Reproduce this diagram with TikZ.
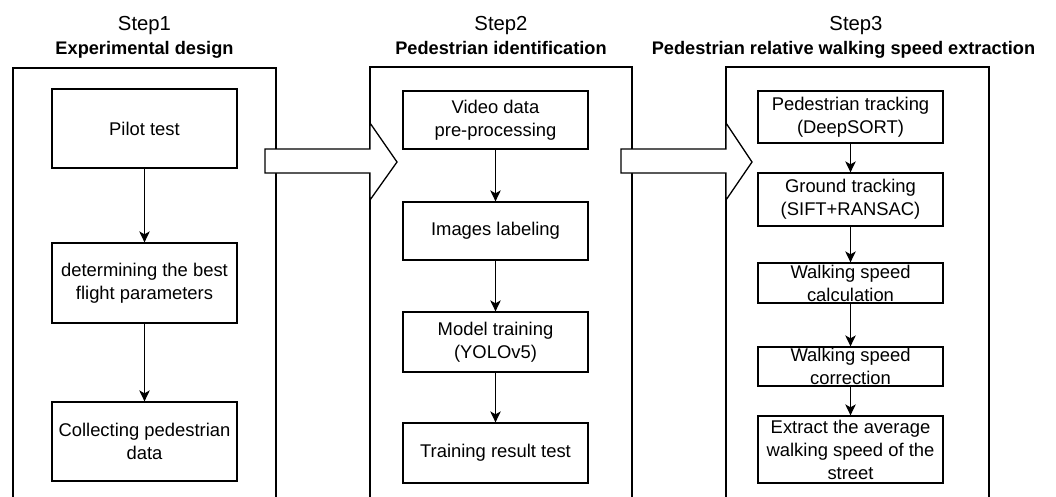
\documentclass[tikz,border=0pt]{standalone}
\usepackage{fontspec}
\setmainfont{Liberation Sans}
\usetikzlibrary{arrows.meta}
\tikzset{
  x=1pt, y=-1pt,
  lw/.style={line width=1.3pt, draw=black},
  stepbox/.style={lw, fill=white, rectangle, inner sep=0pt, minimum width=185pt,
    align=center, font=\fontsize{18.4}{23}\selectfont},
  flow/.style={lw, -{Stealth[length=11pt,width=10.5pt,inset=3pt]}},
  bigarrow/.style={lw, fill=white, line join=miter},
  steplabel/.style={anchor=base, inner sep=0pt, font=\fontsize{20.3}{24}\selectfont},
  titlelabel/.style={anchor=base, inner sep=0pt, font=\fontsize{18.2}{22}\selectfont\bfseries},
}
\begin{document}
\begin{tikzpicture}
\useasboundingbox (0,0) rectangle (1056,496);

% stage frames, running off the lower edge
\begin{scope}
  \clip (0,0) rectangle (1056,496);
  \draw[lw] (13,68) rectangle (276,510);
  \draw[lw] (370,67) rectangle (632,510);
  \draw[lw] (726,67) rectangle (989,510);
\end{scope}

% headings
\node[steplabel] (s1) at (144.5,30) {Step1};
\node[titlelabel] (t1) at (144.5,54) {Experimental design};
\node[steplabel] (s2) at (501,30) {Step2};
\node[titlelabel] (t2) at (501,54) {Pedestrian identification};
\node[steplabel] (s3) at (856,30) {Step3};
\node[titlelabel] (t3) at (843.5,54) {Pedestrian relative walking speed extraction};

% block arrows between stages
\draw[bigarrow] (265,149) -- (370,149) -- (370,123) -- (397,162) -- (370,200) -- (370,173) -- (265,173) -- cycle;
\draw[bigarrow] (621,149) -- (726,149) -- (726,123) -- (752,162) -- (726,200) -- (726,173) -- (621,173) -- cycle;

% Step 1
\node[stepbox, minimum height=79pt] (a1) at (144.5,128.5) {Pilot test};
\node[stepbox, minimum height=80pt] (a2) at (144.5,283) {determining the best\\flight parameters};
\node[stepbox, minimum height=79pt] (a3) at (144.5,441.5) {Collecting pedestrian\\data};
\draw[flow] (a1) -- (a2);
\draw[flow] (a2) -- (a3);

% Step 2
\node[stepbox, minimum height=58pt] (b1) at (495.5,120) {Video data\\pre-processing};
\node[stepbox, minimum height=58pt] (b2) at (495.5,231) {Images labeling};
\node[stepbox, minimum height=60pt] (b3) at (495.5,342) {Model training\\(YOLOv5)};
\node[stepbox, minimum height=60pt] (b4) at (495.5,453) {Training result test};
\draw[flow] (b1) -- (b2);
\draw[flow] (b2) -- (b3);
\draw[flow] (b3) -- (b4);

% Step 3
\node[stepbox, minimum height=52pt] (c1) at (850.5,117) {Pedestrian tracking\\(DeepSORT)};
\node[stepbox, minimum height=53pt] (c2) at (850.5,199.5) {Ground tracking\\(SIFT+RANSAC)};
\node[stepbox, minimum height=40pt] (c3) at (850.5,283) {Walking speed\\calculation};
\node[stepbox, minimum height=39pt] (c4) at (850.5,366.5) {Walking speed\\correction};
\node[stepbox, minimum height=67pt] (c5) at (850.5,449.5) {Extract the average\\walking speed of the\\street};
\draw[flow] (c1) -- (c2);
\draw[flow] (c2) -- (c3);
\draw[flow] (c3) -- (c4);
\draw[flow] (c4) -- (c5);
\end{tikzpicture}
\end{document}
